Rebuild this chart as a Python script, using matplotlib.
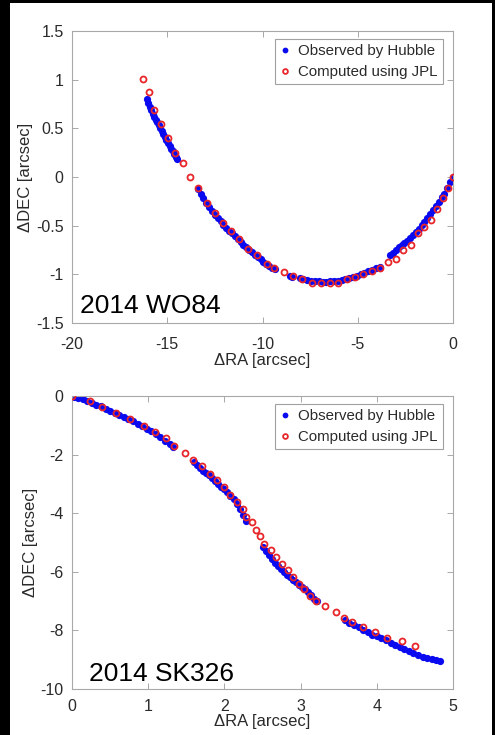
import matplotlib
matplotlib.use("Agg")
import matplotlib.pyplot as plt
from matplotlib.patches import Rectangle

plt.rcParams['font.family'] = ['Liberation Sans', 'DejaVu Sans']

# 2014 WO84
wo_hub_x = [-16.08, -16.00, -15.92, -15.84, -15.76, -15.68, -15.60, -15.52, -15.44, -15.36,
            -15.28, -15.20, -15.12, -15.04, -14.96, -14.88, -14.80, -14.72, -14.64, -14.56, -14.50,
            -13.40, -13.25, -13.10, -12.95, -12.80, -12.65, -12.50, -12.35, -12.20, -12.05,
            -11.90, -11.75, -11.60, -11.45, -11.30, -11.15, -11.00, -10.85, -10.70, -10.55,
            -10.40, -10.25, -10.10, -9.95, -9.80, -9.65, -9.50, -9.35, -8.55, -8.45,
            -8.05, -7.85, -7.65, -7.45, -7.25, -7.05, -6.85, -6.65, -6.45, -6.25, -6.05,
            -5.85, -5.65, -5.45, -5.25, -5.05, -4.85, -4.65, -4.45, -4.25, -4.05, -3.85,
            -3.30, -3.15, -3.00, -2.85, -2.70, -2.55, -2.40, -2.25, -2.10, -1.95, -1.80,
            -1.65, -1.50, -1.35, -1.20, -1.05, -0.90, -0.75, -0.60, -0.45, -0.30, -0.15, -0.02]
wo_hub_y = [0.80, 0.76, 0.72, 0.69, 0.65, 0.62, 0.59, 0.56, 0.53, 0.50,
            0.47, 0.44, 0.41, 0.38, 0.35, 0.32, 0.29, 0.27, 0.24, 0.21, 0.19,
            -0.12, -0.17, -0.22, -0.27, -0.31, -0.35, -0.39, -0.42, -0.45, -0.49,
            -0.52, -0.55, -0.58, -0.61, -0.64, -0.67, -0.70, -0.72, -0.75, -0.77,
            -0.80, -0.82, -0.84, -0.87, -0.89, -0.91, -0.93, -0.95, -1.02, -1.03,
            -1.04, -1.05, -1.06, -1.07, -1.07, -1.07, -1.08, -1.08, -1.07, -1.07, -1.07,
            -1.06, -1.05, -1.04, -1.03, -1.02, -1.00, -0.99, -0.97, -0.96, -0.94, -0.92,
            -0.80, -0.78, -0.75, -0.72, -0.70, -0.68, -0.66, -0.63, -0.60, -0.57, -0.53,
            -0.49, -0.46, -0.42, -0.38, -0.34, -0.30, -0.26, -0.21, -0.17, -0.11, -0.05, -0.01]
wo_jpl_x = [-16.29, -15.97, -15.68, -15.31, -14.94, -14.59, -14.19, -13.79, -13.40, -12.93,
            -12.49, -12.09, -11.67, -11.22, -10.75, -10.27, -9.78, -9.38, -8.85, -8.38,
            -7.94, -7.42, -6.94, -6.46, -6.02, -5.58, -5.14, -4.70, -4.27, -3.83,
            -3.41, -2.99, -2.61, -2.21, -1.85, -1.50, -1.15, -0.84, -0.53, -0.25, 0.0]
wo_jpl_y = [1.01, 0.87, 0.69, 0.54, 0.40, 0.25, 0.14, 0.0, -0.11, -0.27,
            -0.37, -0.47, -0.55, -0.64, -0.74, -0.80, -0.89, -0.94, -0.98, -1.02,
            -1.05, -1.09, -1.09, -1.09, -1.09, -1.05, -1.03, -1.00, -0.97, -0.94,
            -0.87, -0.84, -0.75, -0.70, -0.58, -0.51, -0.44, -0.33, -0.22, -0.11, 0.0]

# 2014 SK326
sk_hub_x = [0.02, 0.08, 0.14, 0.20, 0.26, 0.32, 0.38, 0.44, 0.50, 0.56, 0.62, 0.68,
            0.74, 0.80, 0.86, 0.92, 0.98, 1.04, 1.10, 1.16, 1.22, 1.28, 1.32,
            1.60, 1.64, 1.68, 1.72, 1.76, 1.80, 1.84, 1.88, 1.92, 1.96, 2.00, 2.04,
            2.08, 2.12, 2.16, 2.20, 2.24, 2.28,
            2.50, 2.54, 2.58, 2.62, 2.66, 2.70, 2.74, 2.78, 2.82, 2.86, 2.90, 2.94,
            2.98, 3.02, 3.06, 3.10, 3.14, 3.18, 3.21,
            3.58, 3.64, 3.70, 3.76, 3.82, 3.88, 3.94, 4.00, 4.06, 4.12, 4.18, 4.24,
            4.30, 4.36, 4.42, 4.48, 4.54, 4.60, 4.66, 4.72, 4.78, 4.83]
sk_hub_y = [-0.02, -0.07, -0.11, -0.18, -0.25, -0.31, -0.35, -0.43, -0.50, -0.58, -0.66, -0.72,
            -0.79, -0.86, -0.94, -1.03, -1.11, -1.20, -1.30, -1.40, -1.52, -1.64, -1.74,
            -2.25, -2.36, -2.45, -2.55, -2.63, -2.70, -2.80, -2.90, -3.00, -3.10, -3.18, -3.27,
            -3.40, -3.53, -3.68, -3.85, -4.05, -4.27,
            -5.15, -5.30, -5.43, -5.58, -5.70, -5.80, -5.90, -6.00, -6.10, -6.19, -6.28, -6.36,
            -6.44, -6.52, -6.60, -6.70, -6.80, -6.92, -7.00,
            -7.65, -7.74, -7.82, -7.90, -8.00, -8.07, -8.14, -8.20, -8.26, -8.33, -8.42, -8.50,
            -8.57, -8.63, -8.70, -8.77, -8.84, -8.90, -8.94, -8.98, -9.01, -9.04]
sk_jpl_x = [0.0, 0.23, 0.40, 0.58, 0.76, 0.94, 1.09, 1.23, 1.34, 1.48, 1.59, 1.70, 1.81,
            1.90, 1.99, 2.08, 2.17, 2.25, 2.29, 2.36, 2.42, 2.47, 2.52, 2.61, 2.68, 2.75,
            2.83, 2.90, 2.98, 3.05, 3.12, 3.20, 3.32, 3.46, 3.57, 3.68, 3.82, 3.98, 4.14,
            4.33, 4.50]
sk_jpl_y = [0.0, -0.17, -0.37, -0.59, -0.79, -1.02, -1.22, -1.45, -1.70, -1.93, -2.19, -2.39, -2.65,
            -2.88, -3.11, -3.39, -3.62, -3.87, -4.13, -4.30, -4.57, -4.79, -5.04, -5.25, -5.50, -5.73,
            -5.94, -6.19, -6.42, -6.59, -6.82, -6.99, -7.16, -7.36, -7.56, -7.73, -7.90, -8.07, -8.25,
            -8.36, -8.53]

fig = plt.figure(figsize=(4.95, 7.35), dpi=100, facecolor='black')
fig.patches.append(Rectangle((10 / 495, 0), 482 / 495, 732 / 735,
                             transform=fig.transFigure, facecolor='white',
                             edgecolor='none', zorder=-1))

ax1 = fig.add_axes([72 / 495, 1 - 323 / 735, 381 / 495, 292 / 735])
ax2 = fig.add_axes([72 / 495, 1 - 689 / 735, 381 / 495, 293 / 735])

panels = [
    (ax1, wo_hub_x, wo_hub_y, wo_jpl_x, wo_jpl_y, "2014 WO84",
     (-20, 0), (-1.5, 1.5), [-20, -15, -10, -5, 0],
     [-1.5, -1, -0.5, 0, 0.5, 1, 1.5], (0.022, 0.034), 10, 1),
    (ax2, sk_hub_x, sk_hub_y, sk_jpl_x, sk_jpl_y, "2014 SK326",
     (0, 5), (-10, 0), [0, 1, 2, 3, 4, 5],
     [-10, -8, -6, -4, -2, 0], (0.045, 0.027), 7, 0),
]

for ax, hx, hy, jx, jy, name, xl, yl, xt, yt, tpos, tpad, xpad in panels:
    ax.plot(hx, hy, 'o', color='#0a0af0', markersize=5.2, markeredgewidth=0,
            label='Observed by Hubble', zorder=2)
    ax.plot(jx, jy, 'o', color='#e8262a', markerfacecolor='none', markersize=4.3,
            markeredgewidth=1.3, label='Computed using JPL', zorder=3)
    ax.set_xlim(xl)
    ax.set_ylim(yl)
    ax.set_xticks(xt)
    ax.set_xticklabels([('%g' % v) for v in xt])
    ax.set_yticks(yt)
    ax.set_yticklabels([('%g' % v) for v in yt])
    ax.tick_params(direction='in', length=4, width=0.6, color='#9a9a9a',
                   labelsize=11.5, labelcolor='#2a2a2a', top=True, right=True)
    ax.tick_params(axis='x', pad=tpad)
    ax.tick_params(axis='y', pad=6)
    for s in ax.spines.values():
        s.set_color('#a8a8a8')
        s.set_linewidth(0.8)
    ax.set_xlabel('ΔRA [arcsec]', fontsize=12, color='#2a2a2a', labelpad=xpad)
    ax.set_ylabel('ΔDEC [arcsec]', fontsize=12, color='#2a2a2a', labelpad=2)
    ax.text(tpos[0], tpos[1], name, transform=ax.transAxes, fontsize=19,
            color='black', ha='left', va='baseline')
    leg = ax.legend(loc='upper right', bbox_to_anchor=(0.974, 0.973), borderaxespad=0,
                    fontsize=10.8, frameon=True, fancybox=False, handlelength=0.6,
                    handletextpad=0.6, borderpad=0.35, labelspacing=0.45, markerscale=0.8)
    leg.get_frame().set_edgecolor('#8a8a8a')
    leg.get_frame().set_linewidth(0.8)
    for t in leg.get_texts():
        t.set_color('#2a2a2a')

fig.savefig('out.png', dpi=100)
